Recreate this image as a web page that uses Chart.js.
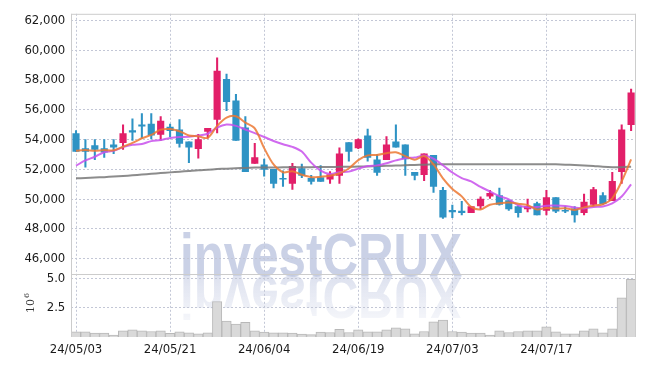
<!DOCTYPE html>
<html><head><meta charset="utf-8">
<script src="https://cdn.jsdelivr.net/npm/chart.js@4/dist/chart.umd.min.js"></script>
<style>html,body{margin:0;padding:0;background:#fff;overflow:hidden}</style>
</head><body>
<canvas id="c" width="645" height="366"></canvas>
<script>
const dates = ['24/05/03','24/05/07','24/05/08','24/05/09','24/05/10','24/05/13','24/05/14','24/05/16','24/05/17','24/05/20',
'24/05/21','24/05/22','24/05/23','24/05/24','24/05/27','24/05/28','24/05/29','24/05/30','24/05/31','24/06/03',
'24/06/04','24/06/05','24/06/07','24/06/10','24/06/11','24/06/12','24/06/13','24/06/14','24/06/17','24/06/18',
'24/06/19','24/06/20','24/06/21','24/06/24','24/06/25','24/06/26','24/06/27','24/06/28','24/07/01','24/07/02',
'24/07/03','24/07/04','24/07/05','24/07/08','24/07/09','24/07/10','24/07/11','24/07/12','24/07/15','24/07/16',
'24/07/17','24/07/18','24/07/19','24/07/22','24/07/23','24/07/24','24/07/25','24/07/26','24/07/29','24/07/30'];
const xTickLabels = ['24/05/03','24/05/21','24/06/04','24/06/19','24/07/03','24/07/17'];
const openP = [54400,53400,53600,53400,53650,53800,54600,55000,55050,54350,
54850,54650,53850,53400,54550,55350,58050,56600,54800,52400,
52300,52000,51400,51050,52050,51400,51450,51350,51600,53800,
53450,54250,52650,52650,53850,53650,51800,51650,52950,50600,
49250,49200,49100,49550,50200,50250,49900,49500,49350,49700,
49250,50100,49250,49350,49100,49650,50250,49900,51850,55000];
const highP = [54600,54000,54000,54000,54000,55000,55400,55750,55750,55550,
55050,55350,53850,54350,54750,59500,58400,57050,55550,53750,
52700,52000,51900,52400,52350,51600,52250,51850,53450,53800,
54050,54700,53000,54200,55000,53650,51800,53050,52950,50800,
49600,49850,49500,50150,50600,50750,49900,49550,50000,49800,
50600,50100,49500,49500,50350,50800,50450,51800,55000,57400];
const lowP = [53200,52150,52650,52800,53050,53350,53950,54100,54050,53950,
54200,53500,52450,52750,54100,54450,55950,53950,51850,52400,
51550,50750,50850,50650,51450,51000,51200,51050,51050,52550,
53400,52550,51600,52650,53500,51600,51300,51250,50450,48700,
48750,48950,49100,49350,50050,49600,49250,48800,49150,48950,
48950,49100,49100,48450,48950,49550,49650,49900,51050,54600];
const closeP = [53200,53200,53350,53150,53500,54400,54500,54900,54300,55250,
54600,53750,53500,54000,54750,58600,56550,53950,51850,52800,
52000,51050,51350,52200,51600,51200,51200,51650,53050,53200,
54000,52800,51800,53650,53500,52700,51600,53050,50850,48800,
49150,49100,49500,50000,50400,49650,49350,49100,49500,48950,
50100,49200,49200,48950,49800,50650,49700,51200,54650,57150];
const ma5 = [53250,53300,53250,53300,53280,53520,53780,54090,54320,54670,
54710,54560,54280,54220,54120,54920,55480,55570,55140,54750,
53430,52330,51810,51880,51640,51480,51510,51570,51740,52060,
52620,52940,52970,53090,53150,52890,52650,52900,52340,51400,
50690,50190,49480,49310,49630,49730,49780,49700,49600,49310,
49400,49370,49390,49280,49450,49560,49660,50060,51200,52670];
const ma10 = [52250,52600,52850,53150,53250,53500,53650,53700,53900,53975,
54115,54170,54185,54270,54395,54815,55020,54925,54680,54435,
54175,53905,53690,53510,53195,52455,51920,51690,51810,51850,
52050,52225,52270,52415,52605,52755,52795,52935,52715,52275,
51790,51420,51190,50825,50515,50210,49985,49590,49455,49470,
49565,49575,49545,49440,49380,49480,49515,49725,50180,51000];
const ma60 = [51400,51420,51450,51480,51520,51560,51600,51650,51700,51750,
51800,51850,51900,51950,51980,52020,52050,52080,52100,52120,
52130,52130,52140,52150,52150,52150,52160,52160,52170,52180,
52190,52200,52220,52240,52260,52280,52300,52320,52340,52350,
52350,52340,52340,52340,52340,52340,52340,52350,52350,52350,
52350,52340,52320,52300,52270,52230,52180,52150,52150,52180];
const volumeM = [0.45,0.45,0.34,0.34,0.17,0.53,0.61,0.53,0.47,0.53,
0.31,0.45,0.36,0.28,0.36,3.05,1.37,1.12,1.26,0.53,
0.42,0.36,0.36,0.34,0.25,0.20,0.42,0.39,0.67,0.39,
0.61,0.45,0.45,0.61,0.78,0.70,0.28,0.47,1.31,1.45,
0.47,0.42,0.34,0.34,0.17,0.53,0.39,0.47,0.53,0.53,
0.87,0.45,0.28,0.28,0.53,0.70,0.36,0.70,3.36,4.96];
const priceTicks = [46000,48000,50000,52000,54000,56000,58000,60000,62000];
const volumeTicks = [2.5,5.0];

const UP = '#e21f69', DOWN = '#2e93c4';
const FONT = "'DejaVu Sans Condensed','Liberation Sans Narrow','Roboto Condensed',sans-serif";
const GRID = '#c3c7d6';
const candleColor = ctx => closeP[ctx.dataIndex] >= openP[ctx.dataIndex] ? UP : DOWN;
const wicks = dates.map((d,i)=>[lowP[i], highP[i]]);
const bodies = dates.map((d,i)=>[Math.min(openP[i],closeP[i]), Math.max(openP[i],closeP[i])]);
const tickSet = new Set(xTickLabels);

const watermark = {
  id:'watermark',
  beforeDraw(chart){
    const ctx = chart.ctx;
    ctx.save();
    ctx.font = "bold 61px 'Liberation Sans'";
    const txt = 'investCRUX';
    const w = ctx.measureText(txt).width;
    const targetW = 282, x0 = 180, base = 276;
    ctx.translate(x0, base);
    ctx.scale(targetW / w, 1);
    ctx.fillStyle = 'rgba(150,163,205,0.5)';
    ctx.textBaseline = 'alphabetic';
    ctx.fillText(txt, 0, 0);
    ctx.scale(1, -1);
    const g = ctx.createLinearGradient(0, 0, 0, -48);
    g.addColorStop(0, 'rgba(150,163,205,0.32)');
    g.addColorStop(1, 'rgba(150,163,205,0.08)');
    ctx.fillStyle = g;
    ctx.fillText(txt, 0, 0);
    ctx.restore();
  }
};
const frame = {
  id:'frame',
  afterDraw(chart){
    const {ctx, chartArea:a, scales} = chart;
    ctx.save();
    ctx.strokeStyle = '#cccccc';
    ctx.lineWidth = 1;
    ctx.beginPath();
    ctx.moveTo(a.left, a.top + 0.5); ctx.lineTo(a.right, a.top + 0.5);
    const sep = Math.round(scales.y.bottom) + 0.5;
    ctx.moveTo(a.left, sep); ctx.lineTo(a.right, sep);
    ctx.moveTo(Math.round(a.right) - 0.5, a.top); ctx.lineTo(Math.round(a.right) - 0.5, a.bottom);
    ctx.moveTo(Math.round(a.left) + 0.5, a.top); ctx.lineTo(Math.round(a.left) + 0.5, a.bottom);
    ctx.stroke();
    // 10^6 axis title
    ctx.fillStyle = '#333';
    ctx.translate(34, 313);
    ctx.rotate(-Math.PI/2);
    ctx.textBaseline = 'alphabetic';
    ctx.font = "11px 'DejaVu Serif'";
    ctx.fillText('10', 0, 0);
    const w = ctx.measureText('10').width;
    ctx.font = "8px 'DejaVu Serif'";
    ctx.fillText('6', w + 1, -5);
    ctx.restore();
  }
};

new Chart(document.getElementById('c'), {
  data: {
    labels: dates,
    datasets: [
      {type:'line', label:'MA5', data: ma5, yAxisID:'y', borderColor:'rgba(236,120,50,0.85)', borderWidth:2, pointRadius:0, tension:0.3, order:0},
      {type:'line', label:'MA10', data: ma10, yAxisID:'y', borderColor:'rgba(200,80,236,0.85)', borderWidth:2, pointRadius:0, tension:0.3, order:0},
      {type:'line', label:'MA60', data: ma60, yAxisID:'y', borderColor:'rgba(120,120,120,0.85)', borderWidth:2, pointRadius:0, tension:0.3, order:0},
      {type:'bar', label:'body', data: bodies, yAxisID:'y', backgroundColor: candleColor, borderWidth:0, barThickness:6.5, grouped:false, order:1},
      {type:'bar', label:'wick', data: wicks, yAxisID:'y', backgroundColor: candleColor, borderWidth:0, barThickness:1.4, grouped:false, order:2},
      {type:'bar', label:'volume', data: volumeM, yAxisID:'yv', backgroundColor:'#d9d9d9', borderColor:'#b8b8b8', borderWidth:1, barPercentage:1, categoryPercentage:1, grouped:false, order:3}
    ]
  },
  options: {
    responsive:false, devicePixelRatio:1, animation:false,
    layout:{padding:{left:0, right:9.2, top:9.3, bottom:0}},
    plugins:{legend:{display:false}, tooltip:{enabled:false}},
    scales:{
      x:{type:'category', offset:true,
        grid:{offset:false, drawTicks:false, lineWidth:1,
          color: c => (c.tick && tickSet.has(dates[c.index])) ? GRID : 'rgba(0,0,0,0)'},
        border:{display:false, dash:[2,2]},
        ticks:{autoSkip:false, maxRotation:0, minRotation:0, padding:5, color:'#1a1a1a',
          font:{family:FONT, size:13},
          callback:(v,i)=> tickSet.has(dates[i]) ? dates[i] : ''},
        afterFit: s => { s.height = 29; }
      },
      yv:{type:'linear', position:'left', stack:'panes', stackWeight:1, weight:0, min:0, max:5.45,
        afterBuildTicks: s => { s.ticks = volumeTicks.map(v=>({value:v})); },
        grid:{drawTicks:false, color:GRID, lineWidth:1},
        border:{display:false, dash:[2,2]},
        ticks:{autoSkip:false, padding:6, color:'#1a1a1a', font:{family:FONT, size:13}, callback: v => Number(v).toFixed(1)},
        afterFit: s => { s.width = 71.3; }
      },
      y:{type:'linear', position:'left', stack:'panes', stackWeight:4.1, weight:1, min:45000, max:62450,
        afterBuildTicks: s => { s.ticks = priceTicks.map(v=>({value:v})); },
        grid:{drawTicks:false, color:GRID, lineWidth:1},
        border:{display:false, dash:[2,2]},
        ticks:{autoSkip:false, padding:6, color:'#1a1a1a', font:{family:FONT, size:13}, callback: v => Number(v).toLocaleString('en-US')},
        afterFit: s => { s.width = 71.3; }
      }
    }
  },
  plugins:[watermark, frame]
});
</script>
</body></html>
